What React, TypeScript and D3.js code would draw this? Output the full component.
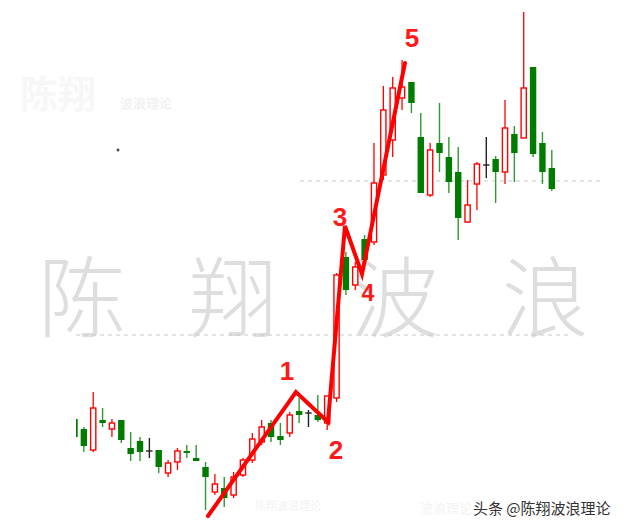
import React from "react";
import * as d3 from "d3";

// ---- data (price units) ----
const opens = [3.62, 3.42, 3.0, 3.6, 3.42, 3.6, 3.04, 3.18, 2.98, 3.0, 2.54, 2.76, 2.98, 2.84, 2.66, 2.16, 2.24, 2.1, 2.5, 2.8, 3.16, 3.54, 3.28, 3.34, 3.78, 3.74, 3.7, 3.54, 4.04, 6.86, 6.3, 7.22, 7.16, 8.5, 9.2, 10.04, 10.36, 9.26, 8.1, 9.14, 8.86, 8.56, 7.56, 8.32, 8.7, 8.82, 8.56, 9.32, 9.24, 10.66, 9.14, 8.64];
const highs = [3.66, 3.46, 4.16, 3.84, 3.62, 3.6, 3.36, 3.26, 3.24, 3.0, 2.8, 3.04, 3.1, 3.1, 2.76, 2.52, 2.46, 2.56, 2.84, 3.34, 3.6, 3.6, 3.54, 3.76, 4.04, 3.8, 4.1, 4.08, 6.54, 6.96, 6.76, 7.3, 9.14, 10.28, 10.46, 10.8, 10.36, 9.74, 9.14, 9.94, 9.26, 9.06, 8.4, 8.76, 9.26, 8.88, 10.0, 9.48, 11.76, 10.66, 9.36, 9.0];
const lows = [3.22, 2.96, 2.96, 3.46, 3.26, 3.14, 2.78, 2.78, 2.84, 2.54, 2.46, 2.6, 2.84, 2.78, 1.8, 2.1, 1.86, 2.04, 2.46, 2.74, 3.1, 3.16, 3.1, 3.26, 3.54, 3.46, 3.56, 3.4, 3.96, 6.1, 6.2, 6.7, 7.1, 8.4, 8.86, 9.8, 9.74, 8.14, 8.06, 8.56, 8.14, 7.2, 7.54, 7.8, 8.44, 7.94, 8.32, 8.36, 9.24, 8.86, 8.32, 8.18];
const closes = [3.26, 3.08, 3.84, 3.54, 3.54, 3.2, 2.92, 2.96, 2.98, 2.66, 2.74, 2.98, 2.94, 2.78, 2.46, 2.32, 2.04, 2.46, 2.8, 3.22, 3.46, 3.26, 3.2, 3.7, 3.7, 3.74, 3.6, 4.08, 6.5, 6.2, 6.66, 6.8, 8.34, 9.8, 10.24, 10.26, 9.94, 8.14, 9.0, 8.94, 8.36, 7.64, 7.9, 8.72, 8.7, 8.56, 9.44, 8.94, 10.24, 8.92, 8.56, 8.22];

// Elliott wave points: candle index (fractional) and price
const waveIdx = [14.26, 23.66, 27.08, 28.9, 30.72, 35.31];
const wavePrice = [1.68, 4.16, 3.56, 7.48, 6.52, 10.74];
const waveLabels = ["", "1", "2", "3", "4", "5"];

// reference levels (dashed)
const levels = [8.38, 5.3];

const watermarkChars = ["陈", "翔", "波", "浪"];

export default function App() {
  const W = 638;
  const H = 530;
  const n = opens.length;
  const x = d3.scaleLinear().domain([0, n - 1]).range([74.5, 551.8]);
  const y = d3.scaleLinear().domain([0, 12]).range([600, 0]);
  const bw = 6.4;

  const RED = "#ff0000";
  const GREEN_BODY = "#007d00";
  const GREEN_WICK = "#2f9a2f";

  const candles = d3.range(n).map((i) => {
    const o = opens[i], c = closes[i], h = highs[i], l = lows[i];
    const cx = x(i);
    const top = y(Math.max(o, c));
    const bot = y(Math.min(o, c));
    if (c > o) {
      return (
        <g key={i}>
          <line x1={cx} x2={cx} y1={y(h)} y2={top} stroke={RED} strokeWidth={1.3} />
          <line x1={cx} x2={cx} y1={bot} y2={y(l)} stroke={RED} strokeWidth={1.3} />
          <rect x={cx - bw / 2 + 0.6} y={top} width={bw - 1.2} height={Math.max(bot - top, 1)} fill="#fff" stroke={RED} strokeWidth={1.4} />
        </g>
      );
    } else if (c < o) {
      return (
        <g key={i}>
          <line x1={cx} x2={cx} y1={y(h)} y2={y(l)} stroke={GREEN_WICK} strokeWidth={1.4} />
          <rect x={cx - bw / 2} y={top} width={bw} height={Math.max(bot - top, 2)} fill={GREEN_BODY} />
        </g>
      );
    }
    return (
      <g key={i}>
        <line x1={cx} x2={cx} y1={y(h)} y2={y(l)} stroke="#222" strokeWidth={1.4} />
        <line x1={cx - bw / 2} x2={cx + bw / 2} y1={top} y2={top} stroke="#222" strokeWidth={1.4} />
      </g>
    );
  });

  const wavePts: [number, number][] = waveIdx.map((v, i) => [x(v), y(wavePrice[i])]);
  const waveLine = d3.line()(wavePts) || "";

  // label offsets from wave points
  const labelOffsets: [number, number][] = [
    [0, 0],
    [-9, -12],
    [8, 37],
    [-5, 0],
    [6, 27],
    [7, -16],
  ];

  return (
    <svg
      width={W}
      height={H}
      style={{ position: "absolute", left: 0, top: 0, background: "#fff" }}
      fontFamily="'Liberation Sans', Arial, sans-serif"
    >
      <defs>
        <clipPath id="plotClip">
          <rect x={76} y={0} width={W - 76} height={H} />
        </clipPath>
      </defs>
      <rect x={0} y={0} width={W} height={H} fill="#fff" />

      {/* faint top-left watermark */}
      <text x={20} y={108} fontSize={38} fill="#f7f7f7" fontFamily="'Noto Sans CJK SC'" fontWeight={700}>陈翔</text>
      <text x={120} y={108} fontSize={13} fill="#f2f2f2" fontFamily="'Noto Sans CJK SC'" fontWeight={700}>波浪理论</text>

      {/* tiny marker */}
      <path d="M116.5,150 L119.5,150 M118,148.5 L118,151.5" stroke="#222" strokeWidth={1.2} />

      {/* big watermark */}
      {watermarkChars.map((ch, i) => (
        <text
          key={ch}
          x={[82, 233, 395, 545][i]}
          y={291}
          fontSize={88}
          fill="#dedede"
          textAnchor="middle"
          dominantBaseline="central"
          fontFamily="'Noto Sans CJK SC'"
          fontWeight={300}
        >
          {ch}
        </text>
      ))}

      {/* dashed levels */}
      <line x1={300} x2={600} y1={y(levels[0])} y2={y(levels[0])} stroke="#c8c8c8" strokeDasharray="4,4" strokeWidth={1} />
      <line x1={76} x2={570} y1={y(levels[1])} y2={y(levels[1])} stroke="#c8c8c8" strokeDasharray="4,4" strokeWidth={1} />

      <g clipPath="url(#plotClip)">{candles}</g>

      {/* wave line */}
      <path d={waveLine} fill="none" stroke={RED} strokeWidth={4} strokeLinejoin="miter" strokeLinecap="round" />
      {wavePts.map((p, i) =>
        waveLabels[i] ? (
          <text
            key={i}
            x={p[0] + labelOffsets[i][0]}
            y={p[1] + labelOffsets[i][1]}
            fontSize={i === 4 ? 23 : 26}
            fontWeight={700}
            fill="#ff1a1a"
            textAnchor="middle"
          >
            {waveLabels[i]}
          </text>
        ) : null
      )}

      {/* faint bottom text */}
      <text x={255} y={510} fontSize={11} fill="#f3f3f3" fontFamily="'Noto Sans CJK SC'">陈翔波浪理论</text>
      <text x={420} y={513} fontSize={13} fill="#f3f3f3" fontFamily="'Noto Sans CJK SC'">波浪理论</text>

      {/* signature */}
      <text
        x={473}
        y={514}
        fontSize={15}
        fill="#333"
        stroke="#fff"
        strokeWidth={2.5}
        paintOrder="stroke"
        fontFamily="'Noto Sans CJK SC'"
      >
        头条 @陈翔波浪理论
      </text>
    </svg>
  );
}
